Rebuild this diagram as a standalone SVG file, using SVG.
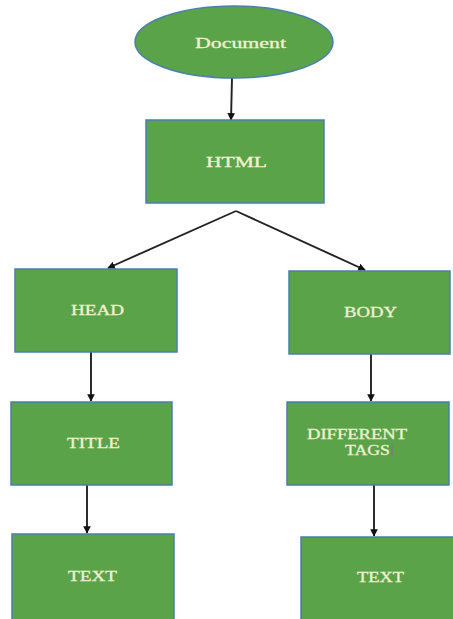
<svg xmlns="http://www.w3.org/2000/svg" width="453" height="619" viewBox="0 0 453 619">
<style>
.n{fill:#5ba349;stroke:#4a7fae;stroke-width:1.5}
.t{font-family:"Liberation Serif",serif;font-size:14px;fill:#f1f0d2;stroke:#f1f0d2;stroke-width:0.3;text-anchor:start}
.c{stroke:#222;stroke-width:1.9;fill:none;marker-end:url(#ah)}
</style>
<defs>
<marker id="ah" viewBox="0 0 10 10" refX="9" refY="5" markerWidth="4" markerHeight="4" orient="auto" markerUnits="strokeWidth">
<path d="M0,0 L10,5 L0,10 z" fill="#111"/>
</marker>
</defs>
<rect width="453" height="619" fill="#fff"/>
<g id="connectors">
<line class="c" x1="232" y1="78" x2="231" y2="120"/>
<polyline class="c" points="236,211 108,268"/>
<polyline class="c" points="236,211 365,270"/>
<line class="c" x1="91" y1="352" x2="91" y2="401"/>
<line class="c" x1="371" y1="354" x2="371" y2="401"/>
<line class="c" x1="87" y1="485" x2="87" y2="533"/>
<line class="c" x1="374" y1="485" x2="374" y2="536"/>
</g>
<g id="document">
<ellipse class="n" cx="234" cy="42" rx="99" ry="36"/>
<text class="t" x="195" y="48" textLength="91" lengthAdjust="spacingAndGlyphs">Document</text>
</g>
<g id="html">
<rect class="n" x="146" y="120" width="178" height="83"/>
<text class="t" x="206" y="167" textLength="61" lengthAdjust="spacingAndGlyphs">HTML</text>
</g>
<g id="head">
<rect class="n" x="15" y="269" width="162" height="83"/>
<text class="t" x="71" y="315" textLength="53" lengthAdjust="spacingAndGlyphs">HEAD</text>
</g>
<g id="body">
<rect class="n" x="289" y="271" width="161" height="83"/>
<text class="t" x="344" y="317" textLength="53" lengthAdjust="spacingAndGlyphs">BODY</text>
</g>
<g id="title">
<rect class="n" x="11" y="402" width="161" height="83"/>
<text class="t" x="67" y="448" textLength="53" lengthAdjust="spacingAndGlyphs">TITLE</text>
</g>
<g id="different-tags">
<rect class="n" x="287" y="402" width="162" height="83"/>
<text class="t" x="307" y="439" textLength="100" lengthAdjust="spacingAndGlyphs">DIFFERENT</text>
<text class="t" x="345" y="455" textLength="45" lengthAdjust="spacingAndGlyphs">TAGS</text>
<line x1="392" y1="445" x2="392" y2="457" stroke="#8a6a9a" stroke-width="1.2"/>
</g>
<g id="text-left">
<rect class="n" x="12" y="534" width="162" height="90"/>
<text class="t" x="68" y="581" textLength="49" lengthAdjust="spacingAndGlyphs">TEXT</text>
</g>
<g id="text-right">
<rect class="n" x="301" y="537" width="160" height="90"/>
<text class="t" x="357" y="582" textLength="47" lengthAdjust="spacingAndGlyphs">TEXT</text>
</g>
</svg>
